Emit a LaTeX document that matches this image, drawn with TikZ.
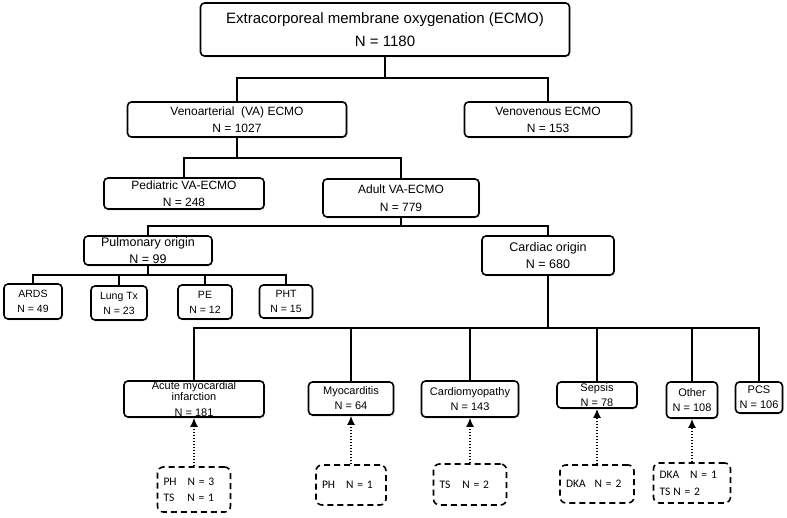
\documentclass[tikz,border=0pt]{standalone}
\usepackage{fontspec}
\setmainfont{Liberation Sans}
\newfontfamily\calibrifont{Carlito}
\usetikzlibrary{shapes,arrows.meta,positioning,calc,shadows}

\begin{document}
\begin{tikzpicture}[x=1pt, y=-1pt]
\tikzstyle{block} = [rectangle, draw, line width=1.6pt, text=black, align=center, rounded corners=4pt, inner sep=0pt, fill=white, drop shadow={shadow xshift=1pt, shadow yshift=-1.5pt, opacity=0.25}]
\tikzstyle{subbox} = [rectangle, draw, line width=1.6pt, dash pattern=on 6pt off 4pt, rounded corners=6pt, align=left, inner xsep=6pt, inner ysep=0pt, font=\calibrifont\fontsize{11.5}{16}\selectfont]
\tikzstyle{line} = [draw, line width=1.6pt]
\tikzstyle{dotarrow} = [draw, line width=1.6pt, dash pattern=on 1.5pt off 1.5pt, -{Latex[length=9pt, width=8pt]}]

\useasboundingbox (0,0) rectangle (787,518);

% Top levels
\node [block, minimum width=369pt, minimum height=53pt, font=\fontsize{15}{23}\selectfont] (ecmo) at (385,29.5) {Extracorporeal membrane oxygenation (ECMO)\\N = 1180};
\node [block, minimum width=219pt, minimum height=35pt, font=\fontsize{12}{17.5}\selectfont] (va) at (237,119.5) {Venoarterial\ \ (VA) ECMO\\N = 1027};
\node [block, minimum width=167pt, minimum height=35pt, font=\fontsize{12}{17}\selectfont] (vv) at (548,119.5) {Venovenous ECMO\\N = 153};
\node [block, minimum width=160pt, minimum height=31pt, font=\fontsize{12}{17}\selectfont] (pediatric) at (184,193.5) {Pediatric VA-ECMO\\N = 248};
\node [block, minimum width=156pt, minimum height=38pt, font=\fontsize{12}{18}\selectfont] (adult) at (401,198) {Adult VA-ECMO\\N = 779};
\node [block, minimum width=128pt, minimum height=29pt, font=\fontsize{12.5}{17}\selectfont] (pulmonary) at (148,250.5) {Pulmonary origin\\N = 99};
\node [block, minimum width=132pt, minimum height=39pt, font=\fontsize{12.5}{17}\selectfont] (cardiac) at (548,255.5) {Cardiac origin\\N = 680};

% Pulmonary causes
\node [block, minimum width=58pt, minimum height=35pt, font=\fontsize{10.5}{15}\selectfont] (ards) at (33,301.5) {ARDS\\N = 49};
\node [block, minimum width=56pt, minimum height=34pt, font=\fontsize{10.5}{15}\selectfont] (lungTx) at (119,303) {Lung Tx\\N = 23};
\node [block, minimum width=54pt, minimum height=34pt, font=\fontsize{10.5}{15}\selectfont] (pe) at (205,302) {PE\\N = 12};
\node [block, minimum width=53pt, minimum height=33pt, font=\fontsize{10.5}{15}\selectfont] (pht) at (286,301.5) {PHT\\N = 15};

% Cardiac causes
\node [block, minimum width=140pt, minimum height=36pt, font=\fontsize{11}{11}\selectfont] (ami) at (194,399) {Acute myocardial\\infarction\\[5pt]N = 181};
\node [block, minimum width=85pt, minimum height=33pt, font=\fontsize{11}{15}\selectfont] (myocarditis) at (351,398.5) {Myocarditis\\N = 64};
\node [block, minimum width=97pt, minimum height=36pt, font=\fontsize{11}{15}\selectfont] (cardiomyo) at (470,399) {Cardiomyopathy\\N = 143};
\node [block, minimum width=80pt, minimum height=26pt, font=\fontsize{11}{15}\selectfont] (sepsis) at (597,395) {Sepsis\\N = 78};
\node [block, minimum width=51pt, minimum height=36pt, font=\fontsize{11}{15}\selectfont] (other) at (692,400) {Other\\N = 108};
\node [block, minimum width=47pt, minimum height=31pt, font=\fontsize{11}{15}\selectfont] (pcs) at (759,397.5) {PCS\\N = 106};

% Sub groups
\node [subbox, text width=61pt, minimum height=45pt] (amiSub) at (194,489.5) {PH\hspace{11pt}N = 3\\TS\hspace{13pt}N = 1};
\node [subbox, text width=58pt, minimum height=40pt] (myoSub) at (351,485) {PH\hspace{11pt}N = 1};
\node [subbox, text width=61pt, minimum height=41pt] (cardiomyoSub) at (470,484.5) {TS\hspace{12pt}N = 2};
\node [subbox, text width=62pt, minimum height=38pt] (sepsisSub) at (597,484) {DKA\hspace{9pt}N = 2};
\node [subbox, text width=65pt, minimum height=40pt, font=\calibrifont\fontsize{11.5}{17}\selectfont] (otherSub) at (692,483) {DKA\hspace{11pt}N = 1\\TS\hspace{3pt}N = 2};

% Bus points
\coordinate (busEcmo) at (385,78);
\coordinate (busVa) at (237,158);
\coordinate (busAdult) at (401,226);
\coordinate (busPulmonary) at (148,275);
\coordinate (busCardiac) at (548,328);

% Connections
\draw [line] (ecmo.south) -- (busEcmo);
\draw [line] (va.north) |- (busEcmo) -| (vv.north);
\draw [line] (va.south) -- (busVa);
\draw [line] (pediatric.north) |- (busVa) -| (adult.north);
\draw [line] (adult.south) -- (busAdult);
\draw [line] (pulmonary.north) |- (busAdult) -| (cardiac.north);
\draw [line] (pulmonary.south) -- (busPulmonary);
\draw [line] (ards.north) |- (busPulmonary) -| (pht.north);
\draw [line] (lungTx.north) -- (lungTx.north |- busPulmonary);
\draw [line] (pe.north) -- (pe.north |- busPulmonary);
\draw [line] (cardiac.south) -- (busCardiac);
\draw [line] (ami.north) |- (busCardiac) -| (pcs.north);
\draw [line] (myocarditis.north) -- (myocarditis.north |- busCardiac);
\draw [line] (cardiomyo.north) -- (cardiomyo.north |- busCardiac);
\draw [line] (sepsis.north) -- (sepsis.north |- busCardiac);
\draw [line] (other.north) -- (other.north |- busCardiac);

\draw [dotarrow] (amiSub.north) -- (ami.south);
\draw [dotarrow] (myoSub.north) -- (myocarditis.south);
\draw [dotarrow] (cardiomyoSub.north) -- (cardiomyo.south);
\draw [dotarrow] (sepsisSub.north) -- (sepsis.south);
\draw [dotarrow] (otherSub.north) -- (other.south);

\end{tikzpicture}
\end{document}
